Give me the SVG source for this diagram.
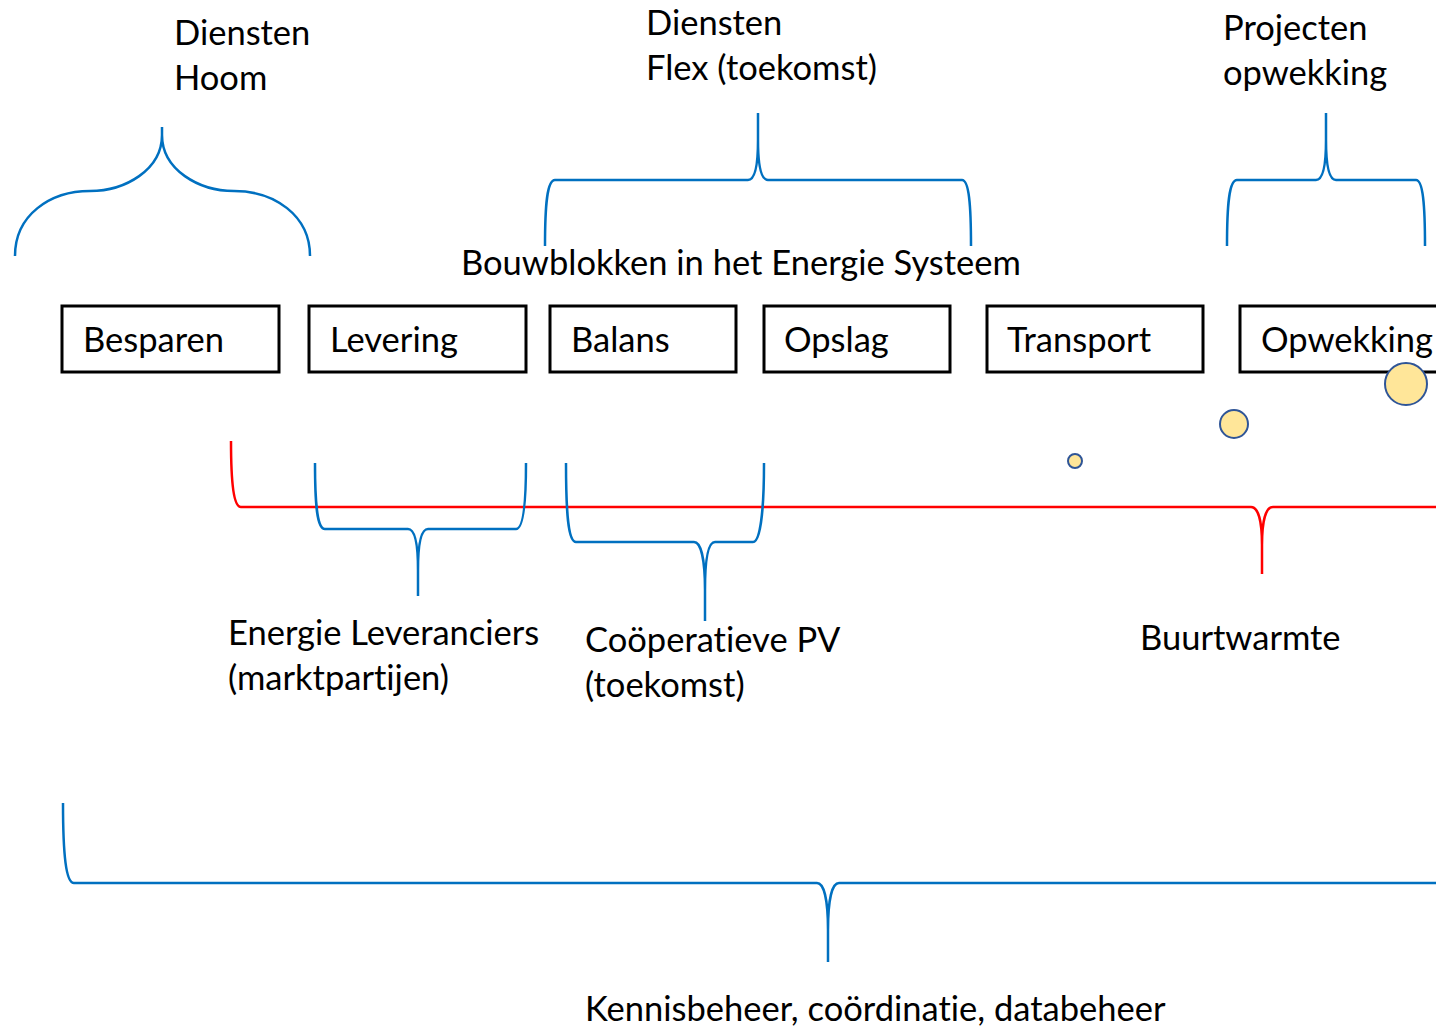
<svg xmlns="http://www.w3.org/2000/svg" width="1436" height="1029" viewBox="0 0 1436 1029">
<style>
text{font-family:Lato,"Noto Sans","Liberation Sans",sans-serif;font-size:34.5px;fill:#000;font-variant-ligatures:none;font-feature-settings:"liga" 0,"clig" 0}
.box{fill:#fff;stroke:#000;stroke-width:3}
.bl{fill:none;stroke:#0070C0;stroke-width:2.5}
.rd{fill:none;stroke:#FF0000;stroke-width:2.5}
.dot{fill:#FFE699;stroke:#2F5597;stroke-width:2}
</style>
<rect width="1436" height="1029" fill="#fff"/>
<g id="connectors">
<path class="bl" d="M15,256 C15,215 50,191 90,191 C125,191 162,170 162,135 L162,127 M162,135 C162,170 199,191 234,191 C274,191 310,215 310,256"/>
<path class="bl" d="M545,246 C545,205 547,180 555,180 L748,180 C755,180 758,165 758,140 L758,113 M758,140 C758,165 761,180 768,180 L962,180 C969,180 971,205 971,246"/>
<path class="bl" d="M1227,246 C1227,205 1229,180 1237,180 L1316,180 C1323,180 1326,165 1326,140 L1326,113 M1326,140 C1326,165 1329,180 1336,180 L1416,180 C1423,180 1425,205 1425,246"/>
<path class="rd" d="M231,441 C231,485 234,507 241,507 L1251,507 C1258,507 1262,520 1262,545 L1262,574 M1262,545 C1262,520 1266,507 1273,507 L1436,507"/>
<path class="bl" d="M315,463 C315,505 317,529 325,529 L408,529 C415,529 418,545 418,570 L418,596 M418,570 C418,545 421,529 428,529 L516,529 C523,529 526,505 526,463"/>
<path class="bl" d="M566,463 C566,512 568,542 576,542 L694,542 C701,542 705,560 705,590 L705,621 M705,590 C705,560 708,542 715,542 L753,542 C760,542 764,512 764,463"/>
<path class="bl" d="M63,803 C63,855 66,883 74,883 L817,883 C824,883 828,900 828,930 L828,962 M828,930 C828,900 832,883 839,883 L1436,883"/>
</g>
<g id="labels">
<text x="174" y="45">Diensten</text>
<text x="174" y="90">Hoom</text>
<text x="646" y="35">Diensten</text>
<text x="646" y="80">Flex (toekomst)</text>
<text x="1223" y="40">Projecten</text>
<text x="1223" y="85">opwekking</text>
<text x="461" y="275">Bouwblokken in het Energie Systeem</text>
<text x="228" y="645">Energie Leveranciers</text>
<text x="228" y="690">(marktpartijen)</text>
<text x="585" y="652">Coöperatieve PV</text>
<text x="585" y="697">(toekomst)</text>
<text x="1140" y="650">Buurtwarmte</text>
<text x="585" y="1021">Kennisbeheer, coördinatie, databeheer</text>
</g>
<g id="besparen"><rect class="box" x="62" y="306" width="217" height="66"/><text x="83" y="352">Besparen</text></g>
<g id="levering"><rect class="box" x="309" y="306" width="217" height="66"/><text x="330" y="352">Levering</text></g>
<g id="balans"><rect class="box" x="550" y="306" width="186" height="66"/><text x="571" y="352">Balans</text></g>
<g id="opslag"><rect class="box" x="764" y="306" width="186" height="66"/><text x="784" y="352">Opslag</text></g>
<g id="transport"><rect class="box" x="987" y="306" width="216" height="66"/><text x="1007" y="352">Transport</text></g>
<g id="opwekking"><rect class="box" x="1240" y="306" width="220" height="66"/><text x="1261" y="352">Opwekking</text></g>
<g id="dots">
<circle class="dot" cx="1075" cy="461" r="7"/>
<circle class="dot" cx="1234" cy="424" r="14"/>
<circle class="dot" cx="1406" cy="384" r="21"/>
</g>
</svg>
